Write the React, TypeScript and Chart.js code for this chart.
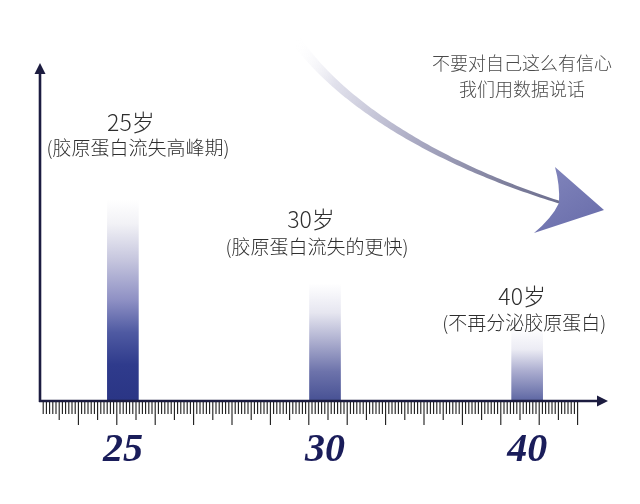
import { useEffect, useRef } from 'react';
import { Chart, registerables } from 'chart.js';

Chart.register(...registerables);

// ---- data ----
const ages = ['25', '30', '40'];
const lossLevel = [60, 35, 22];
const ageTitles = ['25岁', '30岁', '40岁'];
const ageNotes = ['(胶原蛋白流失高峰期)', '(胶原蛋白流失的更快)', '(不再分泌胶原蛋白)'];
const slogan = ['不要对自己这么有信心', '我们用数据说话'];

// gradient stops for each bar (top -> bottom)
const barStops: [number, string][][] = [
  [[0, '#ffffff'], [0.12, '#f2f2f6'], [0.3, '#c6c6de'], [0.5, '#8e90c4'], [0.66, '#4f5aa2'], [0.82, '#2f3b8c'], [1, '#2a3585']],
  [[0, '#ffffff'], [0.25, '#e6e6f0'], [0.5, '#abadce'], [0.75, '#6d73ab'], [1, '#475194']],
  [[0, '#ffffff'], [0.3, '#ececf4'], [0.6, '#aaaccf'], [1, '#5d66a3']],
];

const CJK = '"Noto Sans CJK SC", "Noto Sans", sans-serif';

const decor = {
  id: 'decor',
  afterDraw(chart: any) {
    const { ctx, chartArea: a, scales } = chart;
    const xs = scales.x;
    ctx.save();

    // axes with arrow heads
    const axisColor = '#1c1c40';
    ctx.strokeStyle = axisColor;
    ctx.lineWidth = 2.6;
    ctx.beginPath();
    ctx.moveTo(a.left, a.bottom + 1);
    ctx.lineTo(a.left, a.top + 6);
    ctx.stroke();
    ctx.beginPath();
    ctx.moveTo(a.left - 1, a.bottom);
    ctx.lineTo(a.right - 6, a.bottom);
    ctx.stroke();
    ctx.fillStyle = axisColor;
    ctx.beginPath();
    ctx.moveTo(a.left, a.top - 2);
    ctx.lineTo(a.left - 5.5, a.top + 9);
    ctx.lineTo(a.left + 5.5, a.top + 9);
    ctx.closePath();
    ctx.fill();
    ctx.beginPath();
    ctx.moveTo(a.right, a.bottom);
    ctx.lineTo(a.right - 11, a.bottom - 5.5);
    ctx.lineTo(a.right - 11, a.bottom + 5.5);
    ctx.closePath();
    ctx.fill();

    // ruler ticks under the x axis
    ctx.strokeStyle = '#1a1a1a';
    ctx.lineWidth = 1.1;
    const step = 3.2;
    for (let i = 1; i <= 168; i++) {
      const x = a.left + i * step;
      const len = i % 12 === 0 ? 24 : i % 6 === 0 ? 19 : 13;
      ctx.beginPath();
      ctx.moveTo(x, a.bottom + 1);
      ctx.lineTo(x, a.bottom + len);
      ctx.stroke();
    }

    // annotations above bars
    const titleDx = [8, -14, -5];
    const noteDx = [15, -8, -3];
    const titleY = [122, 219, 296];
    const noteY = [148, 247, 323];
    ctx.textAlign = 'center';
    ctx.textBaseline = 'middle';
    ctx.fillStyle = '#2e2e2e';
    ages.forEach((_, i) => {
      const px = xs.getPixelForValue(i);
      ctx.font = `300 23px ${CJK}`;
      ctx.fillText(ageTitles[i], px + titleDx[i], titleY[i]);
      ctx.font = `300 19px ${CJK}`;
      ctx.fillText(ageNotes[i], px + noteDx[i], noteY[i]);
    });

    // slogan
    ctx.fillStyle = '#4a4a4a';
    ctx.font = `300 18px ${CJK}`;
    ctx.fillText(slogan[0], 522, 63);
    ctx.fillText(slogan[1], 522, 89);

    // big tapered curved arrow
    const P = [[296, 40], [338, 100], [430, 162], [562, 203]];
    const N = 90;
    const L: number[][] = [];
    const R: number[][] = [];
    for (let k = 0; k <= N; k++) {
      const t = k / N;
      const m = 1 - t;
      const x = m * m * m * P[0][0] + 3 * m * m * t * P[1][0] + 3 * m * t * t * P[2][0] + t * t * t * P[3][0];
      const y = m * m * m * P[0][1] + 3 * m * m * t * P[1][1] + 3 * m * t * t * P[2][1] + t * t * t * P[3][1];
      const dx = 3 * m * m * (P[1][0] - P[0][0]) + 6 * m * t * (P[2][0] - P[1][0]) + 3 * t * t * (P[3][0] - P[2][0]);
      const dy = 3 * m * m * (P[1][1] - P[0][1]) + 6 * m * t * (P[2][1] - P[1][1]) + 3 * t * t * (P[3][1] - P[2][1]);
      const len = Math.hypot(dx, dy) || 1;
      const nx = -dy / len;
      const ny = dx / len;
      const w = (10 * (1 - t) + 2.6 * t) / 2;
      L.push([x + nx * w, y + ny * w]);
      R.push([x - nx * w, y - ny * w]);
    }
    const g = ctx.createLinearGradient(296, 40, 562, 203);
    g.addColorStop(0, 'rgba(255,255,255,0)');
    g.addColorStop(0.18, 'rgba(222,222,234,0.9)');
    g.addColorStop(0.5, '#a9a9c2');
    g.addColorStop(0.8, '#80819e');
    g.addColorStop(1, '#6c6e8e');
    ctx.fillStyle = g;
    ctx.beginPath();
    ctx.moveTo(L[0][0], L[0][1]);
    L.forEach((p) => ctx.lineTo(p[0], p[1]));
    for (let k = R.length - 1; k >= 0; k--) ctx.lineTo(R[k][0], R[k][1]);
    ctx.closePath();
    ctx.fill();

    // arrow head
    const hg = ctx.createLinearGradient(550, 168, 590, 230);
    hg.addColorStop(0, '#8084bb');
    hg.addColorStop(1, '#6a6eab');
    ctx.fillStyle = hg;
    ctx.beginPath();
    ctx.moveTo(555, 167);
    ctx.lineTo(604, 210);
    ctx.lineTo(534, 233);
    ctx.quadraticCurveTo(552, 218, 559, 203);
    ctx.quadraticCurveTo(560, 185, 555, 167);
    ctx.closePath();
    ctx.fill();

    ctx.restore();
  },
};

export default function App() {
  const ref = useRef<HTMLCanvasElement>(null);

  useEffect(() => {
    if (!ref.current) return;
    const chart = new Chart(ref.current, {
      type: 'bar',
      data: {
        datasets: [
          {
            data: ages.map((_, i) => ({ x: i, y: lossLevel[i] })),
            barThickness: 31,
            borderWidth: 0,
            backgroundColor: (c: any) => {
              const ch = c.chart;
              const i = c.dataIndex ?? 0;
              const stops = barStops[i] || barStops[0];
              if (!ch.chartArea || !ch.scales.y) return stops[stops.length - 1][1];
              const top = ch.scales.y.getPixelForValue(lossLevel[i]);
              const base = ch.scales.y.getPixelForValue(0);
              const grad = ch.ctx.createLinearGradient(0, top, 0, base);
              stops.forEach(([o, col]) => grad.addColorStop(o, col));
              return grad;
            },
          },
        ],
      },
      options: {
        animation: false,
        responsive: true,
        maintainAspectRatio: false,
        layout: { padding: { left: 40, right: 32, top: 65, bottom: 3 } },
        plugins: { legend: { display: false }, tooltip: { enabled: false } },
        scales: {
          x: {
            type: 'linear',
            offset: false,
            min: -0.41,
            max: 2.4,
            afterBuildTicks: (axis: any) => {
              axis.ticks = ages.map((_, i) => ({ value: i }));
            },
            grid: { display: false, drawTicks: false, offset: false },
            border: { display: false },
            ticks: {
              padding: 26,
              maxRotation: 0,
              autoSkip: false,
              color: '#1a1d5a',
              font: { family: '"Liberation Serif", "Times New Roman", serif', size: 40, weight: 'bold', style: 'italic', lineHeight: 1.2 },
              callback: (v: any) => ages[v as number] ?? '',
            },
          },
          y: { display: false, min: 0, max: 100 },
        },
      },
      plugins: [decor],
    } as any);
    return () => chart.destroy();
  }, []);

  return (
    <div style={{ position: 'absolute', left: 0, top: 0, width: 640, height: 504, background: '#fff' }}>
      <canvas ref={ref} />
    </div>
  );
}
